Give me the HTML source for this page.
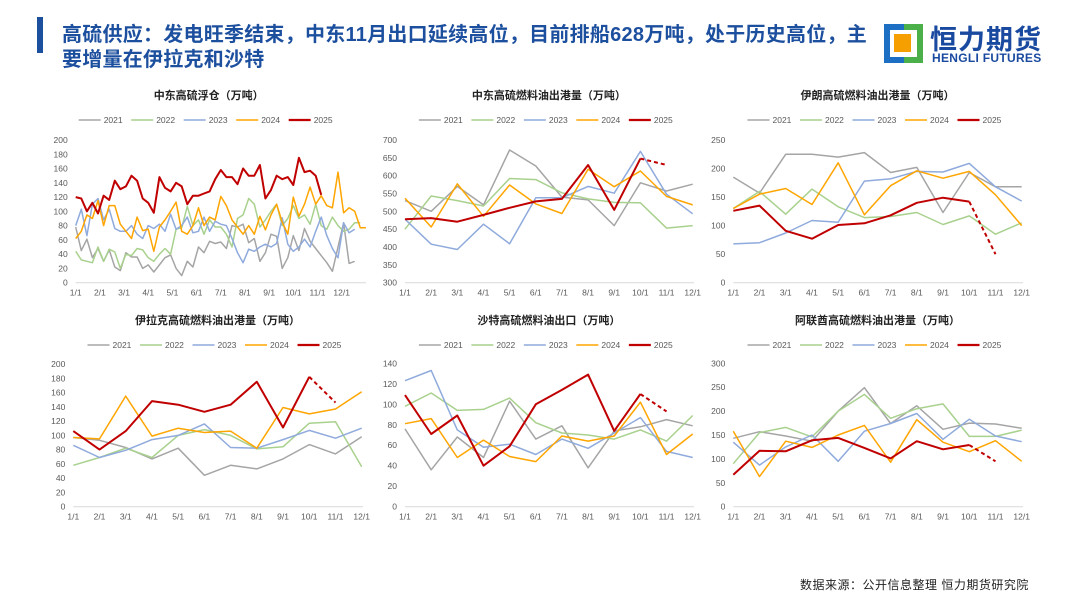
<!DOCTYPE html>
<html><head><meta charset="utf-8"><style>
body{margin:0;width:1080px;height:608px;background:#fff;overflow:hidden;font-family:"Liberation Sans","Noto Sans CJK SC",sans-serif;position:relative}
#bar{position:absolute;left:37px;top:17px;width:6px;height:36px;background:#1d4f9f}
#title{position:absolute;left:62px;top:23px;width:840px;font-size:20px;letter-spacing:0.25px;font-weight:bold;color:#1d4f9f;line-height:25px;white-space:nowrap}
#logo-box{position:absolute;left:884px;top:24px;width:39px;height:39px}
#logo-cn{position:absolute;left:930px;top:18px;font-size:27px;font-weight:bold;color:#1a4aa0;letter-spacing:1px}
#logo-en{position:absolute;left:932px;top:51px;font-size:12px;font-weight:bold;color:#1a4aa0;letter-spacing:0.3px}
#src{position:absolute;left:800px;top:576px;font-size:12px;color:#222;letter-spacing:0.5px}
svg text{font-family:"Liberation Sans","Noto Sans CJK SC",sans-serif}
</style></head><body>
<div id="bar"></div>
<div id="title">高硫供应：发电旺季结束，中东11月出口延续高位，目前排船628万吨，处于历史高位，主<br>要增量在伊拉克和沙特</div>
<svg id="logo-box" viewBox="0 0 39 39"><rect x="0" y="0" width="39" height="39" fill="#1d6fc4"/><rect x="20" y="0" width="19" height="39" fill="#4cb04a"/><rect x="6" y="6" width="27" height="27" fill="#fff"/><rect x="10" y="10" width="17" height="18" fill="#f5a000"/></svg>
<div id="logo-cn">恒力期货</div>
<div id="logo-en">HENGLI FUTURES</div>
<div id="src">数据来源：公开信息整理 恒力期货研究院</div>
<svg id="charts" width="1080" height="608" style="position:absolute;left:0;top:0"></svg>
<script>
const years=["2021","2022","2023","2024","2025"];
const colors=["#a5a5a5","#a9d18e","#8faadc","#ffa500","#c00000"];
const monthLabels=["1/1","2/1","3/1","4/1","5/1","6/1","7/1","8/1","9/1","10/1","11/1","12/1"];
// chart1 weekly
const c1_2021=[78,45,61,35,48,30,46,22,17,42,36,36,20,25,15,25,35,39,20,10,30,22,50,42,58,55,57,48,80,78,82,56,62,30,42,68,65,20,35,66,45,76,58,48,38,28,16,50,84,27,30];
const c1_2022=[44,32,30,28,50,30,47,43,20,40,38,48,46,35,30,40,48,40,75,77,107,80,88,68,88,78,78,68,50,90,95,118,110,78,88,100,110,80,90,108,90,95,82,110,80,75,92,80,72,75,84,84];
const c1_2023=[80,103,66,110,118,88,103,76,72,72,80,68,62,80,76,82,72,96,75,80,92,70,72,92,72,86,82,80,62,42,28,47,44,50,54,50,55,91,54,44,50,61,50,72,92,66,48,35,84,70,75];
const c1_2024=[62,72,95,90,115,80,108,108,82,72,62,92,73,75,44,78,88,100,113,72,68,80,105,80,92,88,121,108,88,78,68,80,68,93,74,95,110,85,68,120,93,110,134,110,122,108,105,155,98,105,100,77,77];
const c1_2025=[120,118,100,112,97,122,116,143,131,135,150,143,118,112,98,148,133,128,140,135,110,122,122,125,128,145,158,148,148,138,160,150,150,165,118,130,150,145,148,137,175,155,157,150,123];
const c1_ticks=[0,20,40,60,80,100,120,140,160,180,200];
// chart2
const c2_2021=[530,500,570,518,672,627,540,532,460,580,557,576];
const c2_2022=[450,543,530,515,592,589,552,535,525,524,453,460];
const c2_2023=[478,408,393,464,409,538,538,570,551,668,548,493];
const c2_2024=[537,456,577,486,574,521,494,618,569,613,542,518];
const c2_2025=[478,481,471,490,510,528,535,630,504,648];
const c2_fcst=[648,630];
const c2_ticks=[300,350,400,450,500,550,600,650,700];
// chart3
const c3_2021=[185,157,225,225,220,228,193,202,123,193,168,168];
const c3_2022=[130,160,120,164,133,114,116,123,102,117,85,105];
const c3_2023=[68,70,87,109,106,178,182,195,194,209,168,143];
const c3_2024=[130,155,165,137,210,119,170,196,183,195,154,100];
const c3_2025=[126,135,91,77,101,104,118,140,149,142];
const c3_fcst=[142,50];
const c3_ticks=[0,50,100,150,200,250];
// chart4
const c4_2021=[97,93,83,67,82,44,58,53,67,87,74,98];
const c4_2022=[58,69,82,69,100,108,100,81,84,117,119,56];
const c4_2023=[86,69,79,94,100,116,83,82,94,107,96,110];
const c4_2024=[97,95,155,99,110,104,106,82,139,130,137,161];
const c4_2025=[106,80,106,148,143,133,143,175,111,182];
const c4_fcst=[182,146];
const c4_ticks=[0,20,40,60,80,100,120,140,160,180,200];
// chart5
const c5_2021=[76,36,68,48,103,66,79,38,74,78,85,79];
const c5_2022=[98,111,94,95,106,82,72,70,66,75,64,89];
const c5_2023=[123,133,75,58,61,51,66,57,72,87,54,48];
const c5_2024=[81,86,48,65,49,44,69,64,69,102,51,71];
const c5_2025=[109,71,89,40,59,100,114,129,74,110];
const c5_fcst=[110,93];
const c5_ticks=[0,20,40,60,80,100,120,140];
// chart6
const c6_2021=[143,157,148,137,200,249,174,211,162,175,173,164];
const c6_2022=[90,155,166,146,200,235,185,205,215,147,147,160];
const c6_2023=[135,87,125,150,95,158,174,195,141,183,148,136];
const c6_2024=[158,63,137,124,150,170,93,182,135,115,138,95];
const c6_2025=[67,117,116,139,144,123,101,137,120,129];
const c6_fcst=[129,95];
const c6_ticks=[0,50,100,150,200,250,300];

const NS="http://www.w3.org/2000/svg";
const root=document.getElementById('charts');
function mk(tag,attrs,parent){const e=document.createElementNS(NS,tag);for(const k in attrs)e.setAttribute(k,attrs[k]);parent.appendChild(e);return e;}

function chart(cfg){
  const g=mk('g',{},root);
  
  
  const x0=cfg.x0,x1=cfg.x1,y0=cfg.y0,y1=cfg.y1,lo=cfg.ticks[0],hi=cfg.ticks[cfg.ticks.length-1];
  const ys=v=>y0-(v-lo)/(hi-lo)*(y0-y1);
  const mstep=(x1-x0)/11;
  const xm=i=>x0+i*mstep;
  const xw=i=>x0+i*mstep*12/52;
  const cx=(x0+x1)/2;
  const t=mk('text',{x:cx,y:cfg.ty,'text-anchor':'middle','font-size':'11','font-weight':'bold',fill:'#222'},g);
  t.textContent=cfg.title;
  
  
  const lx=cx-130;
  years.forEach((y,i)=>{
    const lg=mk('g',{},g);
    
    
    const bx=lx+i*52.5;
    mk('line',{x1:bx,x2:bx+22,y1:cfg.ty+21,y2:cfg.ty+21,stroke:colors[i],'stroke-width':i==4?2.2:1.6},lg);
    const tt=mk('text',{x:bx+25,y:cfg.ty+24,'font-size':'8.5',fill:'#595959'},lg);
    tt.textContent=y;
  });
  const ax=mk('line',{x1:x0,x2:cfg.xe,y1:y0,y2:y0,stroke:'#d9d9d9','stroke-width':1},g);
  
  
  cfg.ticks.forEach(v=>{
    const tl=mk('text',{x:x0-8,y:ys(v)+3,'text-anchor':'end','font-size':'8.5',fill:'#595959'},g);
    tl.textContent=v;
    
    
  });
  monthLabels.forEach((m,i)=>{
    const tl=mk('text',{x:xm(i),y:y0+13,'text-anchor':'middle','font-size':'8.5',fill:'#595959'},g);
    tl.textContent=m;
    
    
  });
  const xf=cfg.weekly?xw:xm;
  cfg.series.forEach((s,i)=>{
    const pts=s.map((v,j)=>xf(j).toFixed(1)+','+ys(v).toFixed(1)).join(' ');
    const p=mk('polyline',{points:pts,fill:'none',stroke:colors[i],'stroke-width':i==4?2:1.5,'stroke-linejoin':'round'},g);
    
    
  });
  if(cfg.fcst){
    const p=mk('line',{x1:xm(9),y1:ys(cfg.fcst[0]),x2:xm(10),y2:ys(cfg.fcst[1]),stroke:colors[4],'stroke-width':2,'stroke-dasharray':'4,3'},g);
    
    
  }
}
chart({name:'chart-mideast-floating-storage',title:'中东高硫浮仓（万吨）',ty:99,x0:75.7,x1:341.7,xe:366,y0:282.7,y1:140,ticks:c1_ticks,weekly:true,series:[c1_2021,c1_2022,c1_2023,c1_2024,c1_2025]});
chart({name:'chart-mideast-exports',title:'中东高硫燃料油出港量（万吨）',ty:99,x0:405,x1:692.7,xe:694,y0:282.7,y1:140,ticks:c2_ticks,series:[c2_2021,c2_2022,c2_2023,c2_2024,c2_2025],fcst:c2_fcst});
chart({name:'chart-iran-exports',title:'伊朗高硫燃料油出港量（万吨）',ty:99,x0:733.3,x1:1021.7,xe:1023,y0:282.7,y1:140,ticks:c3_ticks,series:[c3_2021,c3_2022,c3_2023,c3_2024,c3_2025],fcst:c3_fcst});
chart({name:'chart-iraq-exports',title:'伊拉克高硫燃料油出港量（万吨）',ty:324,x0:73.3,x1:361.7,xe:363,y0:506.7,y1:364,ticks:c4_ticks,series:[c4_2021,c4_2022,c4_2023,c4_2024,c4_2025],fcst:c4_fcst});
chart({name:'chart-saudi-exports',title:'沙特高硫燃料油出口（万吨）',ty:324,x0:405,x1:692.7,xe:694,y0:506.7,y1:363.3,ticks:c5_ticks,series:[c5_2021,c5_2022,c5_2023,c5_2024,c5_2025],fcst:c5_fcst});
chart({name:'chart-uae-exports',title:'阿联酋高硫燃料油出港量（万吨）',ty:324,x0:733.3,x1:1021.7,xe:1023,y0:506.7,y1:363.3,ticks:c6_ticks,series:[c6_2021,c6_2022,c6_2023,c6_2024,c6_2025],fcst:c6_fcst});
</script>
</body></html>
